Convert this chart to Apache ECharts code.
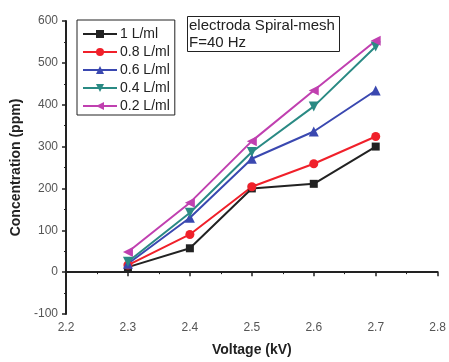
<!DOCTYPE html>
<html>
<head>
<meta charset="utf-8">
<script src="https://cdn.jsdelivr.net/npm/echarts@6/dist/echarts.min.js"></script>
<style>
  html, body { margin: 0; padding: 0; background: #fff; }
  #chart { width: 449px; height: 362px; }
</style>
</head>
<body>
<div id="chart"></div>
<script>
const voltage = [2.3, 2.4, 2.5, 2.6, 2.7];
const flow1 = [12, 57, 200, 211, 300];
const flow08 = [17, 90, 204, 259, 324];
const flow06 = [20, 130, 271, 336, 434];
const flow04 = [25, 142, 287, 396, 539];
const flow02 = [48, 166, 313, 434, 553];

const chart = echarts.init(document.getElementById('chart'));

const mk = (name, values, color, symbol, rotate, size) => ({
  name,
  type: 'line',
  data: voltage.map((v, i) => [v, values[i]]),
  symbol,
  symbolRotate: rotate,
  symbolSize: size,
  itemStyle: { color },
  lineStyle: { color, width: 2 },
});

chart.setOption({
  animation: false,
  title: {
    text: 'electroda Spiral-mesh\nF=40 Hz',
    left: 187,
    top: 16,
    padding: [1, 5, 1, 2],
    borderColor: '#222',
    borderWidth: 1,
    textStyle: {
      fontFamily: 'Liberation Sans, Arial, sans-serif',
      fontSize: 15,
      fontWeight: 'normal',
      color: '#222',
      lineHeight: 17,
    },
  },
  legend: {
    orient: 'vertical',
    left: 77,
    top: 20,
    padding: [7, 5, 2, 5],
    itemGap: 4,
    itemWidth: 34,
    itemHeight: 10,
    borderColor: '#222',
    borderWidth: 1,
    textStyle: {
      fontFamily: 'Liberation Sans, Arial, sans-serif',
      fontSize: 14,
      color: '#222',
      padding: [0, 0, 0, -2],
    },
  },
  grid: { left: 66, right: 8, top: 21, bottom: 47 },
  xAxis: {
    type: 'value',
    min: 2.2,
    max: 2.8,
    interval: 0.1,
    name: 'Voltage (kV)',
    nameLocation: 'middle',
    nameGap: 29,
    nameTextStyle: {
      fontFamily: 'Liberation Sans, Arial, sans-serif',
      fontSize: 14,
      fontWeight: 'bold',
      color: '#222',
    },
    axisLine: { lineStyle: { color: '#222', width: 2 } },
    axisTick: { inside: false, length: 4, lineStyle: { color: '#222', width: 1.5 } },
    minorTick: { show: true, splitNumber: 2, length: 2, lineStyle: { color: '#222' } },
    splitLine: { show: false },
    axisLabel: {
      color: '#555',
      fontFamily: 'Liberation Sans, Arial, sans-serif',
      fontSize: 12,
      margin: 8,
      formatter: v => v.toFixed(1),
    },
  },
  yAxis: {
    type: 'value',
    min: -100,
    max: 600,
    interval: 100,
    name: 'Concentration (ppm)',
    nameLocation: 'middle',
    nameGap: 38,
    nameTextStyle: {
      fontFamily: 'Liberation Sans, Arial, sans-serif',
      fontSize: 14,
      fontWeight: 'bold',
      color: '#222',
    },
    axisLine: { show: true, lineStyle: { color: '#222', width: 2 } },
    axisTick: { show: true, inside: false, length: 4, lineStyle: { color: '#222', width: 1.5 } },
    minorTick: { show: true, splitNumber: 2, length: 2, lineStyle: { color: '#222' } },
    splitLine: { show: false },
    axisLabel: {
      color: '#555',
      fontFamily: 'Liberation Sans, Arial, sans-serif',
      fontSize: 12,
      margin: 8,
    },
  },
  series: [
    mk('1 L/ml', flow1, '#222222', 'rect', 0, 8),
    mk('0.8 L/ml', flow08, '#f0202a', 'circle', 0, 9),
    mk('0.6 L/ml', flow06, '#3a48b0', 'triangle', 0, 10),
    mk('0.4 L/ml', flow04, '#2a8a84', 'triangle', 180, 10),
    mk('0.2 L/ml', flow02, '#c040b0', 'triangle', 90, 10),
  ],
});
</script>
</body>
</html>
